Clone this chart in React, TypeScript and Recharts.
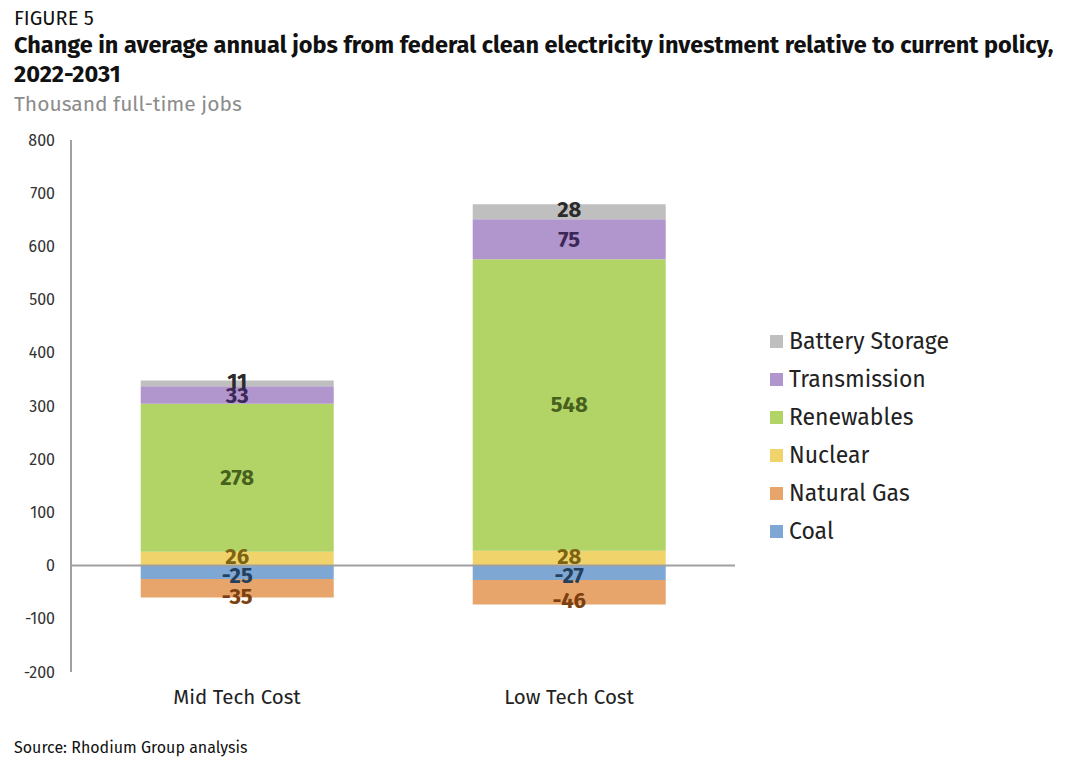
import { BarChart, Bar, XAxis, YAxis, ReferenceLine, LabelList } from "recharts"

const categories = ["Mid Tech Cost", "Low Tech Cost"]
const coal = [-25, -27]
const naturalGas = [-35, -46]
const nuclear = [26, 28]
const renewables = [278, 548]
const transmission = [33, 75]
const batteryStorage = [11, 28]
const yTicks = [-200, -100, 0, 100, 200, 300, 400, 500, 600, 700, 800]

const series = [
  { key: "coal", name: "Coal", values: coal, fill: "#7ea7d3", label: "#24405f", dy: 3 },
  { key: "gas", name: "Natural Gas", values: naturalGas, fill: "#e7a46b", label: "#7b3f10", dy: 8 },
  { key: "nuclear", name: "Nuclear", values: nuclear, fill: "#f0d36b", label: "#7c6412", dy: -2 },
  { key: "renewables", name: "Renewables", values: renewables, fill: "#b2d366", label: "#46611d", dy: 0 },
  { key: "transmission", name: "Transmission", values: transmission, fill: "#b195cd", label: "#3c2858", dy: 0 },
  { key: "battery", name: "Battery Storage", values: batteryStorage, fill: "#bfbfbf", label: "#2b2b2b", dy: -2 },
]

const data = categories.map((name, i) => {
  const row: Record<string, string | number> = { name }
  series.forEach((s) => {
    row[s.key] = s.values[i]
  })
  return row
})

const font = "'Fira Sans', 'Noto Sans', 'Open Sans', sans-serif"

// centred value label, nudged a little like the excel original
const makeLabel = (color: string, dy: number) => (props: any) => {
  const { x, y, width, height, value } = props
  return (
    <text
      x={Number(x) + Number(width) / 2}
      y={Number(y) + Number(height) / 2 + dy}
      textAnchor="middle"
      dominantBaseline="central"
      fill={color}
      style={{ fontSize: 22, fontWeight: 700, fontFamily: font }}
    >
      {value}
    </text>
  )
}

// legend drawn as plain html so it doesn't eat into the plot area
function LegendBox() {
  return (
    <div style={{ position: "absolute", left: 770, top: 322, fontFamily: font, fontSize: 23, color: "#222" }}>
      {[...series].reverse().map((s) => (
        <div key={s.key} style={{ display: "flex", alignItems: "center", height: 38 }}>
          <span style={{ width: 13, height: 13, background: s.fill, marginRight: 6, display: "inline-block" }} />
          <span>{s.name}</span>
        </div>
      ))}
    </div>
  )
}

export default function App() {
  return (
    <div style={{ position: "absolute", left: 0, top: 0, width: 1072, height: 772, background: "#fff", fontFamily: font }}>
      <div style={{ position: "absolute", left: 0, top: 0 }}>
        <BarChart
          width={1072}
          height={772}
          data={data}
          stackOffset="sign"
          barCategoryGap="21%"
          margin={{ top: 140, right: 337, left: 0, bottom: 70 }}
        >
          <XAxis
            dataKey="name"
            axisLine={false}
            tickLine={false}
            tickMargin={11}
            tick={{ fill: "#222", fontSize: 20.5, fontFamily: font }}
          />
          <YAxis
            width={71}
            domain={[-200, 800]}
            ticks={yTicks}
            interval={0}
            tickLine={false}
            tickMargin={10}
            axisLine={{ stroke: "#a0a0a0", strokeWidth: 2 }}
            tick={{ fill: "#333", fontSize: 16, fontFamily: font }}
          />
          <ReferenceLine y={0} stroke="#a0a0a0" strokeWidth={2} />
          {series.map((s) => (
            <Bar key={s.key} dataKey={s.key} name={s.name} stackId="a" fill={s.fill} isAnimationActive={false}>
              <LabelList dataKey={s.key} content={makeLabel(s.label, s.dy)} />
            </Bar>
          ))}
        </BarChart>
      </div>
      <div style={{ position: "absolute", left: 14, top: 6, fontSize: 20, color: "#111" }}>FIGURE 5</div>
      <div style={{ position: "absolute", left: 14, top: 31, fontSize: 23.5, fontWeight: 700, color: "#111", lineHeight: "29px", whiteSpace: "nowrap" }}>
        Change in average annual jobs from federal clean electricity investment relative to current policy,
        <br />
        2022-2031
      </div>
      <div style={{ position: "absolute", left: 14, top: 91, fontSize: 21, color: "#8c8c8c" }}>Thousand full-time jobs</div>
      <LegendBox />
      <div style={{ position: "absolute", left: 14, top: 738, fontSize: 16, color: "#111" }}>Source: Rhodium Group analysis</div>
    </div>
  )
}
